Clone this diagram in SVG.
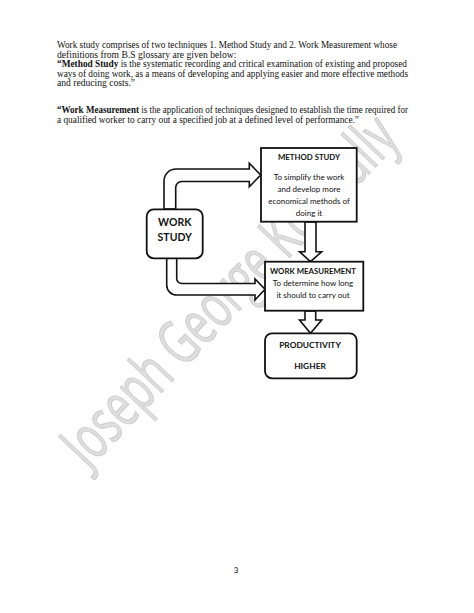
<svg xmlns="http://www.w3.org/2000/svg" width="474" height="613" viewBox="0 0 474 613">
<style>
.body{font-family:"Liberation Serif","Times New Roman",serif;font-size:9.6px;fill:#111}
.b{font-weight:bold}
.lbl{font-family:Lato,"Open Sans",sans-serif;font-size:8px;fill:#111;text-anchor:middle}
.ttl{font-family:Lato,"Open Sans",sans-serif;font-weight:bold;fill:#111;text-anchor:middle}
.box{fill:#fff;stroke:#111;stroke-width:1.8}
.arr{fill:#fff;stroke:#111;stroke-width:1.6;stroke-linejoin:miter}
.wm{font-family:"Open Sans",Lato,sans-serif;font-weight:normal;font-size:62px;fill:#dedede;stroke:#cbcbcb;stroke-width:1}
</style>
<rect width="474" height="613" fill="#fff"/>
<g id="text-block">
<text class="body" x="57" y="48" textLength="340" lengthAdjust="spacingAndGlyphs">Work study comprises of two techniques  1. Method Study and 2. Work Measurement whose</text>
<text class="body" x="57" y="57.5">definitions from B.S glossary are given  below:</text>
<text class="body" x="57" y="67.2" textLength="350" lengthAdjust="spacingAndGlyphs"><tspan class="b">“Method Study</tspan>  is the systematic recording and critical examination of existing and proposed</text>
<text class="body" x="57" y="76.8" textLength="351" lengthAdjust="spacingAndGlyphs">ways of doing work, as a means of developing and applying easier and more effective methods</text>
<text class="body" x="57" y="86.4">and reducing costs.”</text>
<text class="body" x="57" y="113.4" textLength="351" lengthAdjust="spacingAndGlyphs"><tspan class="b">“Work Measurement</tspan> is the application of techniques designed to establish the time required for</text>
<text class="body" x="57" y="123" textLength="302" lengthAdjust="spacingAndGlyphs">a qualified worker to carry out a specified job at a defined level of performance.”</text>
</g>
<g id="watermark">
<text class="wm" transform="translate(88,470) rotate(-46.5)" textLength="455" lengthAdjust="spacingAndGlyphs">Joseph George Konnully</text>
</g>
<g id="connectors">
<path class="arr" d="M164,209 V181 A12,12 0 0 1 176,169 H249.3 V163.3 L260.7,175 L249.3,186.7 V181.5 H181.7 A6,6 0 0 0 175.7,187.5 V209 Z"/>
<path class="arr" d="M166.7,258 V285 A10,10 0 0 0 176.7,295 H255 V300 L265,289.3 L255,279 V283.5 H181.7 A5,5 0 0 1 176.7,278.5 V258 Z"/>
<path class="arr" d="M305,222 V251.7 H299.5 L310.5,261.7 L321.7,251.7 H316 V222 Z"/>
<path class="arr" d="M305,311 V320 H299.5 L310.5,333.3 L321.7,320 H315.7 V311 Z"/>
</g>
<g id="work-study">
<rect class="box" x="146.7" y="209.3" width="56" height="49" rx="7"/>
<text class="ttl" x="174.7" y="226" font-size="10.5">WORK</text>
<text class="ttl" x="174.7" y="241.4" font-size="10.5">STUDY</text>
</g>
<g id="method-study">
<rect class="box" x="261" y="148" width="95.7" height="73.7"/>
<text class="ttl" x="309" y="160" font-size="7.8">METHOD STUDY</text>
<text class="lbl" x="309" y="179.5">To simplify the work</text>
<text class="lbl" x="309" y="191.5">and  develop more</text>
<text class="lbl" x="309" y="203.5">economical methods of</text>
<text class="lbl" x="309" y="215.5">doing it</text>
</g>
<g id="work-measurement">
<rect class="box" x="265" y="261.7" width="98.3" height="49"/>
<text class="ttl" x="313" y="273.5" font-size="7.8">WORK MEASUREMENT</text>
<text class="lbl" x="313" y="285.5">To determine how long</text>
<text class="lbl" x="313" y="297.5">it  should to carry out</text>
</g>
<g id="productivity">
<rect class="box" x="265" y="333.3" width="91.7" height="45" rx="7"/>
<text class="ttl" x="310" y="348.3" font-size="8.4">PRODUCTIVITY</text>
<text class="ttl" x="310" y="369" font-size="8.4">HIGHER</text>
</g>
<g id="page-number">
<text class="lbl" x="236" y="572.5" font-size="9">3</text>
</g>
</svg>
